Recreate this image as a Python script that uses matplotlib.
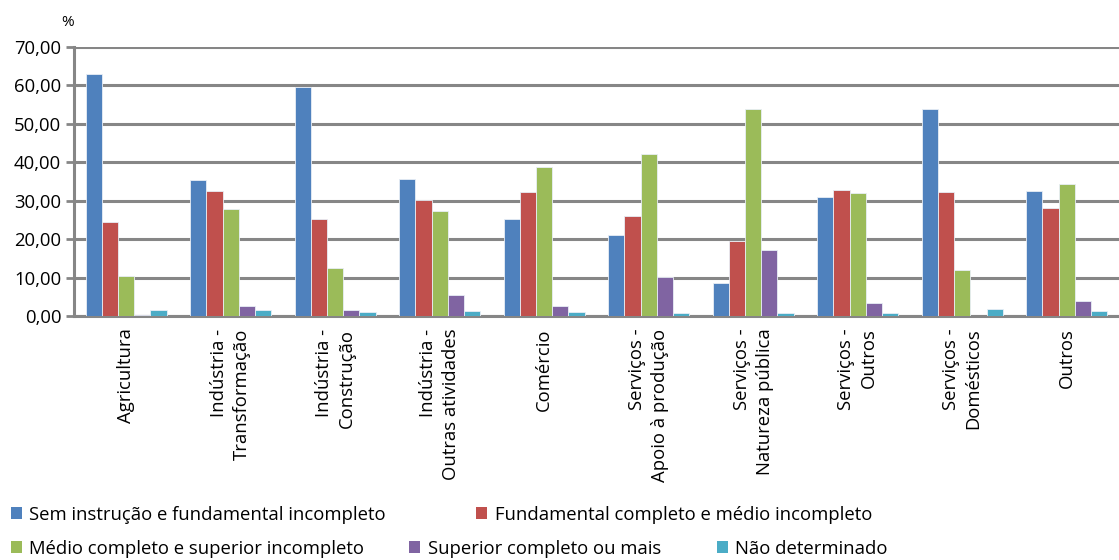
import numpy as np
import matplotlib.pyplot as plt
from matplotlib.patches import Patch

plt.rcParams['font.family'] = ['Open Sans', 'DejaVu Sans']

categorias = ['Agricultura', 'Indústria -\nTransformação', 'Indústria -\nConstrução',
              'Indústria -\nOutras atividades', 'Comércio', 'Serviços -\nApoio à produção',
              'Serviços -\nNatureza pública', 'Serviços -\nOutros', 'Serviços -\nDomésticos',
              'Outros']

series = ['Sem instrução e fundamental incompleto', 'Fundamental completo e médio incompleto',
          'Médio completo e superior incompleto', 'Superior completo ou mais', 'Não determinado']

sem_instrucao = [62.9, 35.3, 59.5, 35.6, 25.2, 21.0, 8.6, 30.9, 53.8, 32.5]
fundamental = [24.5, 32.5, 25.2, 30.3, 32.3, 25.9, 19.4, 32.9, 32.2, 28.1]
medio = [10.4, 27.9, 12.5, 27.2, 38.8, 42.2, 53.9, 32.0, 12.0, 34.3]
superior = [0.2, 2.6, 1.6, 5.5, 2.7, 10.1, 17.1, 3.3, 0.1, 3.8]
nao_determinado = [1.6, 1.5, 1.1, 1.3, 1.0, 0.7, 0.8, 0.8, 1.9, 1.3]

valores = [sem_instrucao, fundamental, medio, superior, nao_determinado]
cores = ['#4F81BD', '#C0504D', '#9BBB59', '#8064A2', '#4BACC6']

fig = plt.figure(figsize=(11.19, 5.6), dpi=100)
ax = fig.add_axes([0.066, 0.4357, 0.934, 0.4804])

x = np.arange(len(categorias))
w = 0.155
for i, (v, c) in enumerate(zip(valores, cores)):
    ax.bar(x + (i - 2) * w, v, w, color=c, edgecolor='#e8eef6', linewidth=0.6, zorder=3)

ax.set_xlim(-0.5, len(categorias) - 0.5)
ax.set_ylim(0, 70)
yt = np.arange(0, 71, 10)
ax.set_yticks(yt)
ax.set_yticklabels([('%.2f' % t).replace('.', ',') for t in yt], fontsize=13.3)
ax.yaxis.set_tick_params(direction='out', length=6, width=2, color='#868686', pad=3)
ax.grid(axis='y', color='#868686', linewidth=2.2, zorder=0)
ax.set_axisbelow(True)

ax.set_xticks(x)
ax.set_xticklabels(categorias, rotation=90, fontsize=13.3, va='top', ha='center',
                   multialignment='right', linespacing=1.35)
ax.tick_params(axis='x', length=0, pad=9)

for s in ['top', 'right']:
    ax.spines[s].set_visible(False)
ax.spines['left'].set_color('#868686')
ax.spines['left'].set_linewidth(2.2)
ax.spines['bottom'].set_color('#868686')
ax.spines['bottom'].set_linewidth(2.2)

fig.text(0.055, 0.96, '%', fontsize=11, ha='left', va='center')

# legenda em posições como no original
pos = [(0.003, 0.081), (0.419, 0.081), (0.003, 0.020), (0.359, 0.020), (0.634, 0.020)]
for nome, c, (px, py) in zip(series, cores, pos):
    fig.legend(handles=[Patch(facecolor=c)], labels=[nome], loc='center left',
               bbox_to_anchor=(px, py), frameon=False, fontsize=13.3,
               handlelength=0.6, handleheight=0.6, handletextpad=0.4, borderaxespad=0)

fig.savefig('out.png', dpi=100)
